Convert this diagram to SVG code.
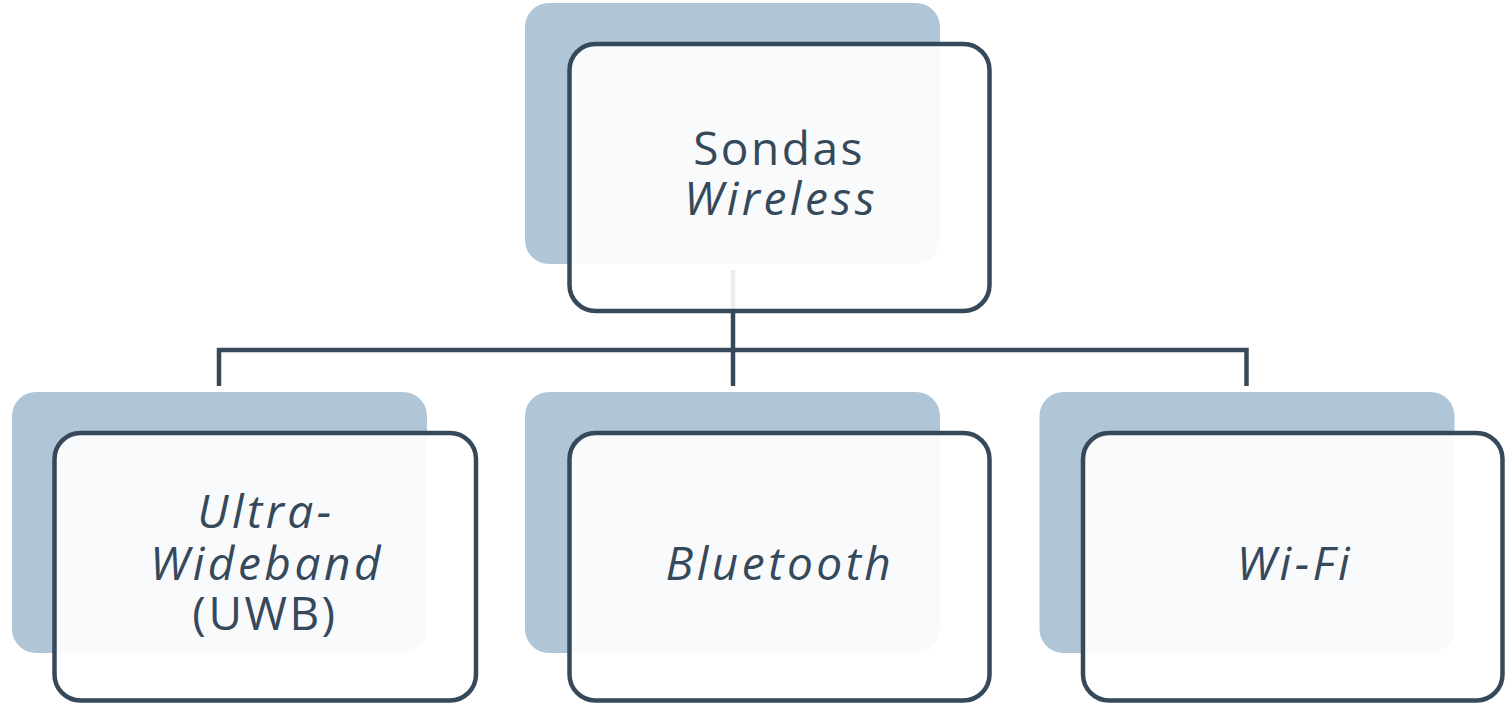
<svg xmlns="http://www.w3.org/2000/svg" width="1505" height="703" viewBox="0 0 1505 703">
<style>
.back{fill:#b0c6d6}
.front{fill:#ffffff;fill-opacity:0.91;stroke:#36495a;stroke-width:4.5}
.conn{fill:none;stroke:#36495a;stroke-width:4.5}
.t{font-family:"Open Sans","Liberation Sans",sans-serif;font-size:46px;fill:#36495a;text-anchor:middle;letter-spacing:2.5px}
.i{font-style:italic;letter-spacing:3.5px}
</style>
<rect width="1505" height="703" fill="#ffffff"/>
<g id="connectors">
<path class="conn" d="M733,270 V386"/>
<path class="conn" d="M219,386 V350 H1246.5 V386"/>
</g>
<g id="node-sondas">
<rect class="back" x="525" y="3" width="415" height="261" rx="24"/>
<rect class="front" x="569.5" y="44" width="420" height="267" rx="26"/>
<text class="t"><tspan x="779" y="165">Sondas</tspan><tspan class="i" x="781" y="215">Wireless</tspan></text>
</g>
<g id="node-uwb">
<rect class="back" x="12" y="392" width="415" height="261" rx="24"/>
<rect class="front" x="54.5" y="433" width="421.5" height="267.5" rx="26"/>
<text class="t"><tspan class="i" x="266" y="528">Ultra-</tspan><tspan class="i" x="267" y="580">Wideband</tspan><tspan x="265" y="630">(UWB)</tspan></text>
</g>
<g id="node-bluetooth">
<rect class="back" x="525" y="392" width="415" height="261" rx="24"/>
<rect class="front" x="569.5" y="433" width="420" height="267.5" rx="26"/>
<text class="t i" x="780" y="580">Bluetooth</text>
</g>
<g id="node-wifi">
<rect class="back" x="1039.5" y="392" width="415" height="261" rx="24"/>
<rect class="front" x="1083" y="433" width="419.5" height="267.5" rx="26"/>
<text class="t i" x="1295" y="580">Wi-Fi</text>
</g>
</svg>
